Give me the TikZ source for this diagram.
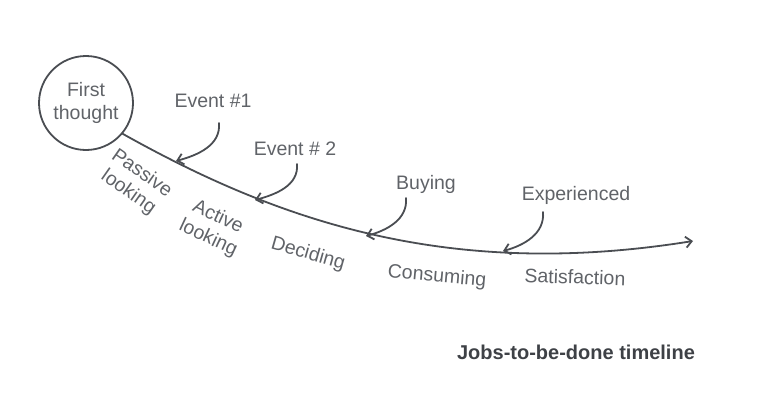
\documentclass[tikz,border=0pt]{standalone}
\usepackage{fontspec}
\setmainfont{Liberation Sans}
\usetikzlibrary{arrows.meta}
\definecolor{ink}{HTML}{4A4D52}
\definecolor{txt}{HTML}{606368}
\definecolor{ttl}{HTML}{3E4146}
\tikzset{
  every picture/.style={x=1pt,y=-1pt},
  line/.style={draw=ink,line width=1.8pt,line cap=round},
  tip/.style={-{Straight Barb[length=6pt,width=11pt,line width=1.8pt]}},
  lbl/.style={text=txt,font=\fontsize{19.5}{23}\selectfont,inner sep=0pt},
  stage/.style={lbl,align=center},
}
\begin{document}
\begin{tikzpicture}
\useasboundingbox (0,0) rectangle (770,418);
\node[draw=ink,line width=1.8pt,circle,minimum size=94pt,lbl,align=center] (fc) at (86,103) {First\\thought};
\coordinate (end) at (693,241);
\draw[line,tip] (fc.-40) .. controls (280,222) and (450,280) .. (end);
\coordinate (p1) at (176,161);
\coordinate (p2) at (255,200);
\coordinate (p3) at (366,236);
\coordinate (p4) at (503,251);
\node[lbl] (e1) at (213,101) {Event \#1};
\node[lbl] (e2) at (295,149) {Event \# 2};
\node[lbl] (e3) at (426,184) {Buying};
\node[lbl] (e4) at (576,195) {Experienced};
\coordinate (a1) at (219,123);
\coordinate (a2) at (297,164);
\coordinate (a3) at (406,198);
\coordinate (a4) at (543,212);
\draw[line,tip] (a1) to[out=-85,in=15] (p1);
\draw[line,tip] (a2) to[out=-85,in=15] (p2);
\draw[line,tip] (a3) to[out=-85,in=15] (p3);
\draw[line,tip] (a4) to[out=-85,in=15] (p4);
\node[stage,rotate=-35] (s1) at (135,183) {Passive\\looking};
\node[stage,rotate=-25] (s2) at (213,228) {Active\\looking};
\node[stage,rotate=-16] (s3) at (308,254) {Deciding};
\node[stage,rotate=-5] (s4) at (437,277) {Consuming};
\node[stage,rotate=-2] (s5) at (575,277) {Satisfaction};
\node[text=ttl,font=\fontsize{20}{24}\selectfont\bfseries,inner sep=0pt] (title) at (576,352) {Jobs-to-be-done timeline};
\end{tikzpicture}
\end{document}
